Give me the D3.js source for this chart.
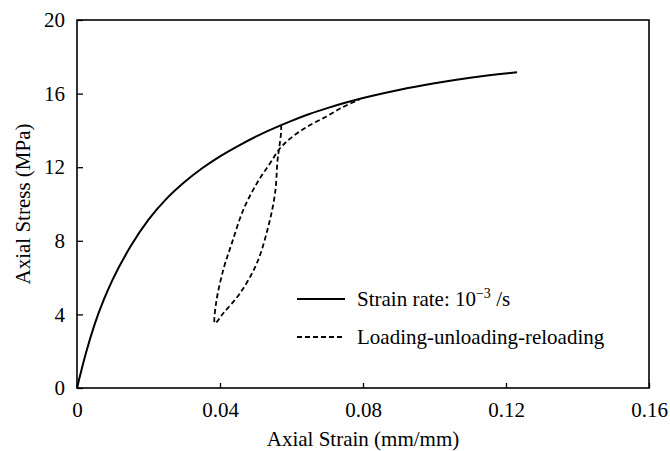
<!DOCTYPE html>
<meta charset="utf-8">
<style>
	body { margin: 0; background: #fff; }
	text { font-family: "Liberation Serif", "Times New Roman", serif; fill: #000; }
	.axis path { display: none; }
	.axis line { stroke: #000; stroke-width: 1.3; }
	.axis text { font-size: 21px; }
</style>

<svg width="670" height="451"></svg>
<script src="https://d3js.org/d3.v7.min.js"></script>

<script>
	// monotonic loading curve (strain rate 1e-3 /s)
	var mainStrain = [0, 0.0025, 0.005, 0.0075, 0.01, 0.015, 0.02, 0.025, 0.03, 0.035, 0.04, 0.045, 0.05, 0.055, 0.06, 0.065, 0.07, 0.075, 0.08, 0.09, 0.1, 0.11, 0.1231];
	var mainStress = [0, 1.90, 3.50, 4.80, 5.90, 7.70, 9.15, 10.28, 11.18, 11.94, 12.59, 13.15, 13.66, 14.11, 14.52, 14.89, 15.21, 15.50, 15.76, 16.20, 16.56, 16.86, 17.16];

	// loading-unloading-reloading loop
	var loopStrain = [0.0571, 0.0571, 0.0566, 0.0561, 0.0554, 0.0535, 0.0503, 0.0456, 0.0409, 0.0386, 0.0389, 0.0409, 0.0433, 0.0465, 0.0503, 0.054, 0.0568, 0.0596, 0.0642, 0.0698, 0.0745, 0.079];
	var loopStress = [14.29, 13.93, 13.11, 12.39, 10.58, 8.77, 6.78, 5.15, 4.06, 3.52, 4.60, 6.41, 7.86, 9.67, 11.12, 12.21, 13.03, 13.55, 14.18, 14.76, 15.28, 15.68];

	var xTicks = [0, 0.04, 0.08, 0.12, 0.16];
	var yTicks = [0, 4, 8, 12, 16, 20];

	var svg = d3.select("svg"),
	    margin = {top: 20, right: 21, bottom: 63, left: 77},
	    width = +svg.attr("width") - margin.left - margin.right,
	    height = +svg.attr("height") - margin.top - margin.bottom;

	var x = d3.scaleLinear().domain([0, 0.16]).range([0, width]),
	    y = d3.scaleLinear().domain([0, 20]).range([height, 0]);

	var g = svg.append("g").attr("transform", "translate(" + margin.left + "," + margin.top + ")");

	// axes with inward ticks
	g.append("g")
	    .attr("class", "axis axis--x")
	    .attr("transform", "translate(0," + height + ")")
	    .call(d3.axisBottom(x).tickValues(xTicks).tickSizeInner(-5).tickSizeOuter(0).tickPadding(14)
	      .tickFormat(function(d) { return d === 0 ? "0" : d3.format(".2f")(d); }));

	g.append("g")
	    .attr("class", "axis axis--y")
	    .call(d3.axisLeft(y).tickValues(yTicks).tickSizeInner(-6).tickSizeOuter(0).tickPadding(12));

	// frame
	g.append("rect")
	    .attr("width", width)
	    .attr("height", height)
	    .attr("fill", "none")
	    .attr("stroke", "#000")
	    .attr("stroke-width", 1.6);

	var mainData = mainStrain.map(function(s, i) { return [s, mainStress[i]]; });
	var loopData = loopStrain.map(function(s, i) { return [s, loopStress[i]]; });

	var line = d3.line()
	    .x(function(d) { return x(d[0]); })
	    .y(function(d) { return y(d[1]); });

	g.append("path")
	    .datum(loopData)
	    .attr("fill", "none")
	    .attr("stroke", "#000")
	    .attr("stroke-width", 1.8)
	    .attr("stroke-dasharray", "5,3")
	    .attr("d", line.curve(d3.curveCatmullRom.alpha(0.5)));

	g.append("path")
	    .datum(mainData)
	    .attr("fill", "none")
	    .attr("stroke", "#000")
	    .attr("stroke-width", 2)
	    .attr("d", line.curve(d3.curveMonotoneX));

	// axis titles
	svg.append("text")
	    .attr("x", margin.left + width / 2)
	    .attr("y", 446)
	    .attr("text-anchor", "middle")
	    .style("font-size", "21px")
	    .text("Axial Strain (mm/mm)");

	svg.append("text")
	    .attr("transform", "rotate(-90)")
	    .attr("x", -(margin.top + height / 2))
	    .attr("y", 30)
	    .attr("text-anchor", "middle")
	    .style("font-size", "21px")
	    .text("Axial Stress (MPa)");

	// legend
	var legend = svg.append("g");
	legend.append("line")
	    .attr("x1", 297).attr("x2", 345).attr("y1", 299).attr("y2", 299)
	    .attr("stroke", "#000").attr("stroke-width", 2);
	var t1 = legend.append("text")
	    .attr("x", 357).attr("y", 306)
	    .style("font-size", "21px");
	t1.append("tspan").text("Strain rate: 10");
	t1.append("tspan").attr("dy", -8).style("font-size", "14px").text("\u22123");
	t1.append("tspan").attr("dy", 8).text(" /s");

	legend.append("line")
	    .attr("x1", 297).attr("x2", 345).attr("y1", 337).attr("y2", 337)
	    .attr("stroke", "#000").attr("stroke-width", 1.8)
	    .attr("stroke-dasharray", "5,3");
	legend.append("text")
	    .attr("x", 357).attr("y", 344)
	    .style("font-size", "21px")
	    .text("Loading-unloading-reloading");
</script>
